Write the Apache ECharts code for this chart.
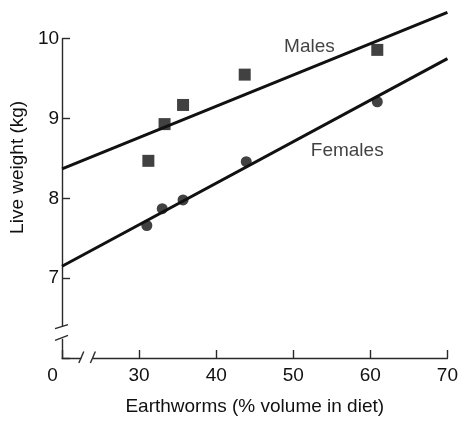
<!DOCTYPE html>
<html><head><meta charset="utf-8">
<script src="https://cdn.jsdelivr.net/npm/echarts@6/dist/echarts.min.js"></script>
<style>html,body{margin:0;padding:0;background:#fff}#c{width:461px;height:421px}</style>
</head><body><div id="c"></div>
<script>
// Data
const maleX = [31.2, 33.3, 35.7, 43.7, 60.9];
const maleY = [8.47, 8.93, 9.17, 9.55, 9.86];
const femaleX = [31.0, 33.0, 35.7, 43.9, 60.9];
const femaleY = [7.66, 7.87, 7.98, 8.46, 9.21];
const maleFitX = [20, 70];
const maleFitY = [8.37, 10.33];
const femaleFitX = [20, 70];
const femaleFitY = [7.15, 9.75];
const xTicks = [20, 30, 40, 50, 60, 70];   // 20 is shown as the broken-axis "0"
const yTicks = [6, 7, 8, 9, 10];
const labelMales = ['Males', 52.1, 9.90];
const labelFemales = ['Females', 57.0, 8.60];

const FONT = 'Liberation Sans, Arial, sans-serif';
const TXT = '#111';
const AX = '#2a2a2a';
const zip = (a, b) => a.map((v, i) => [v, b[i]]);

const chart = echarts.init(document.getElementById('c'), null, {renderer: 'canvas'});
chart.setOption({
  animation: false,
  grid: {left: 59, right: 10.3, top: 38.7, bottom: 59.3, containLabel: false},
  xAxis: {
    type: 'value', min: xTicks[0], max: xTicks[xTicks.length - 1], interval: 10,
    name: 'Earthworms (% volume in diet)', nameLocation: 'middle', nameGap: 39,
    nameTextStyle: {fontFamily: FONT, fontSize: 19, color: TXT},
    axisLine: {lineStyle: {color: AX, width: 1.4}},
    axisTick: {inside: true, length: 8, lineStyle: {color: AX, width: 1.4}},
    splitLine: {show: false},
    axisLabel: {
      fontFamily: FONT, fontSize: 19, color: TXT, margin: 8,
      formatter: v => v === xTicks[0] ? '{z|0}' : String(v),
      rich: {z: {fontFamily: FONT, fontSize: 19, color: TXT, padding: [0, 19, 0, 0]}}
    }
  },
  yAxis: {
    type: 'value', min: yTicks[0], max: yTicks[yTicks.length - 1], interval: 1,
    name: 'Live weight (kg)', nameLocation: 'middle', nameGap: 28,
    nameTextStyle: {fontFamily: FONT, fontSize: 19, color: TXT, padding: [0, 0, 0, 62]},
    axisLine: {lineStyle: {color: AX, width: 1.4}},
    axisTick: {inside: true, length: 8, lineStyle: {color: AX, width: 1.4}},
    splitLine: {show: false},
    axisLabel: {
      fontFamily: FONT, fontSize: 19, color: TXT, margin: 3,
      formatter: v => v === yTicks[0] ? '' : String(v)
    }
  },
  series: [
    {type: 'line', data: zip(maleFitX, maleFitY), symbol: 'none', clip: false,
     lineStyle: {color: '#111', width: 3}, z: 2},
    {type: 'line', data: zip(femaleFitX, femaleFitY), symbol: 'none', clip: false,
     lineStyle: {color: '#111', width: 3}, z: 2},
    {type: 'scatter', data: zip(maleX, maleY), symbol: 'rect', symbolSize: 12,
     itemStyle: {color: '#111'}, z: 3},
    {type: 'scatter', data: zip(femaleX, femaleY), symbol: 'circle', symbolSize: 11,
     itemStyle: {color: '#111'}, z: 3},
    {type: 'scatter', symbolSize: 0, silent: true, z: 4,
     data: [labelMales, labelFemales].map(l => ({value: [l[1], l[2]], name: l[0]})),
     label: {show: true, position: 'inside', formatter: p => p.name,
       fontFamily: FONT, fontSize: 19, color: TXT}}
  ]
});

// Axis break decorations
const P = (x, y) => chart.convertToPixel({gridIndex: 0}, [x, y]);
const o = P(20, 6);
const yb1 = P(20, 6.24)[1], yb2 = P(20, 6.40)[1];
const xb1 = P(22.5, 6)[0], xb2 = P(24.0, 6)[0];
const g = [];
g.push({type: 'rect', shape: {x: o[0] - 4, y: yb2, width: 8, height: yb1 - yb2}, style: {fill: '#fff'}, z: 100});
g.push({type: 'rect', shape: {x: xb1, y: o[1] - 4, width: xb2 - xb1, height: 8}, style: {fill: '#fff'}, z: 100});
const ls = {stroke: AX, lineWidth: 1.4};
g.push({type: 'line', shape: {x1: o[0] - 7, y1: yb2 + 2.5, x2: o[0] + 6, y2: yb2 - 1.5}, style: ls, z: 101});
g.push({type: 'line', shape: {x1: o[0] - 7, y1: yb1 + 1.5, x2: o[0] + 6, y2: yb1 - 3.5}, style: ls, z: 101});
g.push({type: 'line', shape: {x1: xb1 - 2.5, y1: o[1] + 5, x2: xb1 + 2.5, y2: o[1] - 6.5}, style: ls, z: 101});
g.push({type: 'line', shape: {x1: xb2 - 2.5, y1: o[1] + 5, x2: xb2 + 2.5, y2: o[1] - 6.5}, style: ls, z: 101});
chart.setOption({graphic: g});
</script></body></html>
